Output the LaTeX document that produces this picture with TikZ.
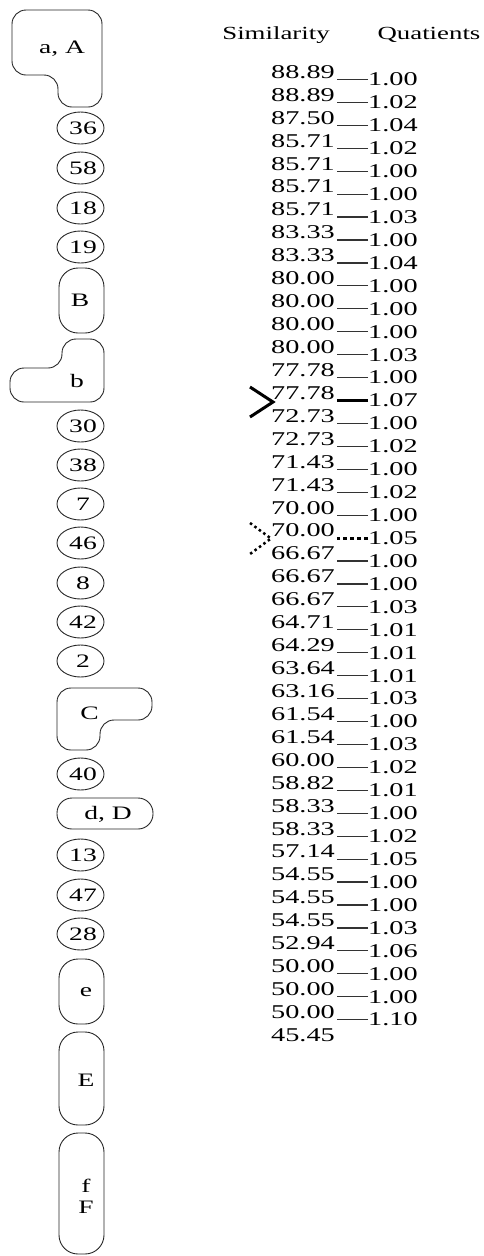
\documentclass[tikz,border=0pt]{standalone}
\usepackage{fontspec}
\setmainfont{Liberation Serif}[FakeStretch=1.45]
\begin{document}
\begin{tikzpicture}[x=1pt,y=-1pt,
  shapeline/.style={draw=black!85,line width=0.9pt},
  ell/.style={ellipse,draw=black!85,line width=0.9pt,minimum width=47pt,minimum height=32pt,inner sep=0pt,font=\fontsize{19}{21}\selectfont},
  lbl/.style={inner sep=0pt,font=\fontsize{19}{21}\selectfont},
  head/.style={inner sep=0pt,font=\fontsize{18.5}{20}\selectfont},
  simnum/.style={anchor=east,inner sep=0pt,font=\fontsize{19.5}{21}\selectfont},
  qnum/.style={anchor=west,inner sep=0pt,font=\fontsize{19.5}{21}\selectfont},
  thinline/.style={draw=black!80,line width=1.2pt},
  boldline/.style={draw=black,line width=3pt},
  dotline/.style={draw=black,line width=3pt,dash pattern=on 4pt off 3pt}]
\useasboundingbox (0,0) rectangle (484,1256);
\usetikzlibrary{shapes.geometric}
% left column
\draw[shapeline,rounded corners=14] (12,10) -- (102,10) -- (102,107) -- (58,107) -- (58,75) -- (12,75) -- cycle;
\node[lbl] (aA) at (62,49) {a, A};
\foreach \t/\yy [count=\k] in {36/128,58/168,18/208,19/247,30/426,38/465,7/504,46/543,8/583,42/622,2/661,40/774,13/855,47/895,28/934}
  \node[ell,execute at begin node=\hspace*{5pt}] (n\t) at (80.5,\yy) {\t};
\draw[shapeline,rounded corners=19] (59,268) rectangle (104,333);
\node[lbl] (B) at (80,300) {B};
\draw[shapeline,rounded corners=14] (62,339) -- (104,339) -- (104,402) -- (10,402) -- (10,368) -- (62,368) -- cycle;
\node[lbl] (b) at (77,381) {b};
\draw[shapeline,rounded corners=14] (57,688) -- (152,688) -- (152,720) -- (100,720) -- (100,750) -- (57,750) -- cycle;
\node[lbl] (C) at (89.5,713) {C};
\draw[shapeline,rounded corners=15] (57,798) rectangle (153,829);
\node[lbl] (dD) at (108,814) {d, D};
\draw[shapeline,rounded corners=19] (59,959) rectangle (104,1024);
\node[lbl] (e) at (86,992) {e};
\draw[shapeline,rounded corners=19] (59,1032) rectangle (104,1125);
\node[lbl] (E) at (86,1080) {E};
\draw[shapeline,rounded corners=19] (59,1133) rectangle (104,1254);
\node[lbl,align=center] (fF) at (86,1196) {f\\F};
% headers
\node[head] (hs) at (276,35) {Similarity};
\node[head] (hq) at (429,35) {Quatients};
% similarity values
\foreach \v [count=\i] in {88.89,88.89,87.50,85.71,85.71,85.71,85.71,83.33,83.33,80.00,80.00,80.00,80.00,77.78,77.78,72.73,72.73,71.43,71.43,70.00,70.00,66.67,66.67,66.67,64.71,64.29,63.64,63.16,61.54,61.54,60.00,58.82,58.33,58.33,57.14,54.55,54.55,54.55,52.94,50.00,50.00,50.00,45.45}
  \node[simnum] (s\i) at (335,{72+22.93*(\i-1)}) {\v};
% quotients
\foreach \v/\st [count=\i] in {1.00/thinline,1.02/thinline,1.04/thinline,1.02/thinline,1.00/thinline,1.00/thinline,1.03/thinline,1.00/thinline,1.04/thinline,1.00/thinline,1.00/thinline,1.00/thinline,1.03/thinline,1.00/thinline,1.07/boldline,1.00/thinline,1.02/thinline,1.00/thinline,1.02/thinline,1.00/thinline,1.05/dotline,1.00/thinline,1.00/thinline,1.03/thinline,1.01/thinline,1.01/thinline,1.01/thinline,1.03/thinline,1.00/thinline,1.03/thinline,1.02/thinline,1.01/thinline,1.00/thinline,1.02/thinline,1.05/thinline,1.00/thinline,1.00/thinline,1.03/thinline,1.06/thinline,1.00/thinline,1.00/thinline,1.10/thinline}
{
  \node[qnum] (q\i) at (368,{79.5+22.93*(\i-1)}) {\v};
  \draw[\st] (q\i.west) -- ++(-31,0);
}
% chevrons
\draw[line width=3pt,line join=miter] (250,387) -- (273,402) -- (250,417);
\draw[line width=2.5pt,dash pattern=on 2.5pt off 3pt] (250,523) -- (271,538.5) -- (250,554);
\end{tikzpicture}
\end{document}
